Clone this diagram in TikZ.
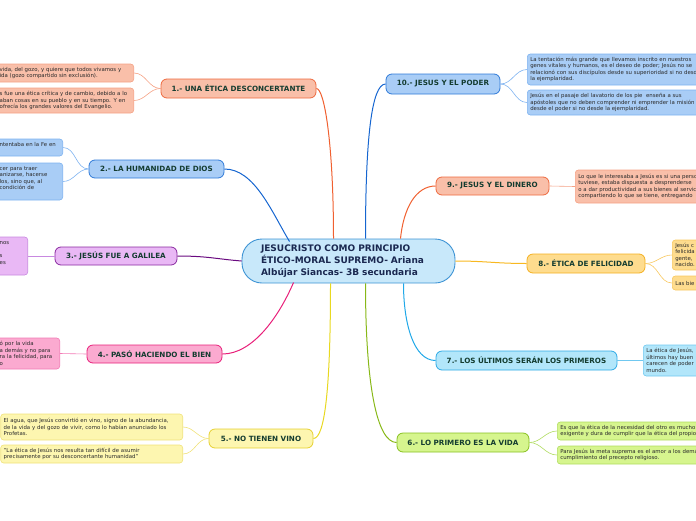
\documentclass[tikz,border=0pt]{standalone}
\usepackage{fontspec}
\setmainfont{DejaVu Sans}
\usetikzlibrary{calc}
\definecolor{labelgreen}{HTML}{143C30}
\definecolor{leaftext}{HTML}{2A2A2A}
\definecolor{cfill}{HTML}{C8E8FA}
\definecolor{cdraw}{HTML}{3D93D4}
\definecolor{ctext}{HTML}{1A2850}
\definecolor{salfill}{HTML}{F9BFA9}
\definecolor{saldraw}{HTML}{EE6A3F}
\definecolor{salleaf}{HTML}{F5A285}
\definecolor{salline}{HTML}{F06030}
\definecolor{bluefill}{HTML}{A9CDF6}
\definecolor{bluedraw}{HTML}{2F7AD8}
\definecolor{blueleaf}{HTML}{7EB2F0}
\definecolor{blueline}{HTML}{1565D0}
\definecolor{purfill}{HTML}{E9B8F5}
\definecolor{purdraw}{HTML}{8A2AA0}
\definecolor{purleaf}{HTML}{C888E0}
\definecolor{purline}{HTML}{6A0A80}
\definecolor{pinkfill}{HTML}{FBAAD0}
\definecolor{pinkdraw}{HTML}{E8207A}
\definecolor{pinkleaf}{HTML}{F27AB5}
\definecolor{yelfill}{HTML}{FDF6B0}
\definecolor{yeldraw}{HTML}{E6D030}
\definecolor{yelleaf}{HTML}{F0E27A}
\definecolor{yelline}{HTML}{E8D820}
\definecolor{grfill}{HTML}{D6F58E}
\definecolor{grdraw}{HTML}{88C020}
\definecolor{grleaf}{HTML}{B0DC60}
\definecolor{grline}{HTML}{88B818}
\definecolor{cyfill}{HTML}{B2E6FA}
\definecolor{cydraw}{HTML}{2EAAE6}
\definecolor{cyleaf}{HTML}{70C8F0}
\definecolor{cyline}{HTML}{20A8E8}
\definecolor{orfill}{HTML}{FEDC8E}
\definecolor{ordraw}{HTML}{F4B020}
\definecolor{orleaf}{HTML}{F8C860}
\definecolor{orline}{HTML}{F8B820}
\begin{document}
\begin{tikzpicture}[x=1pt,y=-1pt,
  central/.style={draw=cdraw, fill=cfill, line width=0.9pt, rounded corners=20pt,
    align=left, text width=175pt, inner xsep=19pt, inner ysep=0pt, minimum height=44pt,
    font=\fontsize{9}{12}\selectfont\bfseries, text=ctext},
  branch/.style={draw, rounded corners=6pt, line width=0.8pt, inner sep=0pt,
    font=\fontsize{7.2}{8}\selectfont\bfseries, text=labelgreen},
  leaf/.style={draw, rounded corners=3pt, line width=0.6pt, inner xsep=3pt, inner ysep=1pt,
    align=left, font=\fontsize{5.4}{6.5}\selectfont, text=leaftext},
  lleaf/.style={leaf, anchor=east},
  rleaf/.style={leaf, anchor=west, text width=250pt},
  mainconn/.style={line width=1pt},
  leafconn/.style={line width=0.6pt}]
\useasboundingbox (0,0) rectangle (696,520);
\clip (0,0) rectangle (696,520);

% central
\node[central] (c) at (348.5,261) {JESUCRISTO COMO PRINCIPIO\\ÉTICO-MORAL SUPREMO- Ariana\\Albújar Siancas- 3B secundaria};

% branches
\node[branch, fill=salfill, draw=saldraw, minimum width=155pt, minimum height=19pt] (b1) at (238.5,88.5) {1.- UNA ÉTICA DESCONCERTANTE};
\node[branch, fill=bluefill, draw=bluedraw, minimum width=135pt, minimum height=18pt] (b2) at (156.5,169) {2.- LA HUMANIDAD DE DIOS};
\node[branch, fill=purfill, draw=purdraw, minimum width=122pt, minimum height=18pt] (b3) at (116,256) {3.- JESÚS FUE A GALILEA};
\node[branch, fill=pinkfill, draw=pinkdraw, minimum width=135pt, minimum height=18pt] (b4) at (154.5,354) {4.- PASÓ HACIENDO EL BIEN};
\node[branch, fill=yelfill, draw=yeldraw, minimum width=104pt, minimum height=19pt] (b5) at (261,438.5) {5.- NO TIENEN VINO};
\node[branch, fill=grfill, draw=grdraw, minimum width=132pt, minimum height=19pt] (b6) at (463,442.5) {6.- LO PRIMERO ES LA VIDA};
\node[branch, fill=cyfill, draw=cydraw, minimum width=181pt, minimum height=19pt] (b7) at (526.5,360.5) {7.- LOS ÚLTIMOS SERÁN LOS PRIMEROS};
\node[branch, fill=orfill, draw=ordraw, minimum width=118pt, minimum height=19pt] (b8) at (586,263.5) {8.- ÉTICA DE FELICIDAD};
\node[branch, fill=salfill, draw=saldraw, minimum width=113pt, minimum height=18pt] (b9) at (492.5,186) {9.- JESUS Y EL DINERO};
\node[branch, fill=bluefill, draw=bluedraw, minimum width=114pt, minimum height=20pt] (b10) at (443,84) {10.- JESUS Y EL PODER};

% left leaves
\node[lleaf, fill=salfill, draw=salleaf, text width=131pt, minimum height=18pt] (l1a) at (134,73) {vida, del gozo, y quiere que todos vivamos y\\ida (gozo compartido sin exclusión).};
\node[lleaf, fill=salfill, draw=salleaf, text width=131pt, minimum height=25pt] (l1b) at (134,100.5) {\mbox{s fue una ética crítica y de cambio, debido a lo}\\\mbox{aban cosas en su pueblo y en su tiempo. Y en}\\ofrecía los grandes valores del Evangelio.};
\node[lleaf, fill=bluefill, draw=blueleaf, text width=60pt, minimum height=17pt] (l2a) at (63,147.5) {ntentaba en la Fe en\\\mbox{}};
\node[lleaf, fill=bluefill, draw=blueleaf, text width=60pt, minimum height=37pt] (l2b) at (63,181.5) {cer para traer\\anizarse, hacerse\\los, sino que, al\\condición de\\\mbox{}};
\node[lleaf, fill=purfill, draw=purleaf, text width=25pt, minimum height=38pt] (l3) at (28,256) {nos\\\mbox{}\\s\\es\\\mbox{}};
\node[lleaf, fill=pinkfill, draw=pinkleaf, text width=57pt, minimum height=31pt] (l4) at (60,353.5) {ó por la vida\\a demás y no para\\\mbox{ra la felicidad, para}\\o};
\node[lleaf, fill=yelfill, draw=yelleaf, text width=176pt, minimum height=26pt] (l5a) at (183,427) {\mbox{El agua, que Jesús convirtió en vino, signo de la abundancia,}\\\mbox{de la vida y del gozo de vivir, como lo habían anunciado los}\\Profetas.};
\node[lleaf, fill=yelfill, draw=yelleaf, text width=176pt, minimum height=18pt] (l5b) at (183,454) {"La ética de Jesús nos resulta tan difícil de asumir\\precisamente por su desconcertante humanidad"};

% right leaves
\node[rleaf, fill=bluefill, draw=blueleaf, minimum height=31pt] (l10a) at (527,69.5) {La tentación más grande que llevamos inscrito en nuestros\\genes vitales y humanos, es el deseo de poder; Jesús no se\\relacionó con sus discípulos desde su superioridad si no desde\\la ejemplaridad.};
\node[rleaf, fill=bluefill, draw=blueleaf, minimum height=25pt] (l10b) at (527,102.5) {Jesús en el pasaje del lavatorio de los pie \ enseña a sus\\apóstoles que no deben comprender ni emprender la misión\\desde el poder si no desde la ejemplaridad.};
\node[rleaf, fill=salfill, draw=salleaf, minimum height=33pt] (l9) at (575,186.5) {Lo que le interesaba a Jesús es si una persona\\tuviese, estaba dispuesta a desprenderse\\o a dar productividad a sus bienes al servicio\\compartiendo lo que se tiene, entregando};
\node[rleaf, fill=orfill, draw=orleaf, minimum height=30pt] (l8a) at (672,255) {Jesús c\\felicida\\gente,\\nacido.};
\node[rleaf, fill=orfill, draw=orleaf, minimum height=14pt] (l8b) at (672,283) {Las bie};
\node[rleaf, fill=cyfill, draw=cyleaf, minimum height=31pt] (l7) at (643,360.5) {La ética de Jesús,\\últimos hay buen\\carecen de poder\\mundo.};
\node[rleaf, fill=grfill, draw=grleaf, minimum height=18pt] (l6a) at (557,431) {Es que la ética de la necesidad del otro es mucho\\exigente y dura de cumplir que la ética del propio};
\node[rleaf, fill=grfill, draw=grleaf, minimum height=18pt] (l6b) at (557,455) {Para Jesús la meta suprema es el amor a los demás\\cumplimiento del precepto religioso.};

% main connectors
\draw[mainconn, salline] ($(c.north)+(-15,0)$) .. controls +(0,-95) and +(8,0) .. (b1.east);
\draw[mainconn, blueline] ($(c.north west)+(48,3)$) .. controls +(-18,-30) and +(30,0) .. (b2.east);
\draw[mainconn, purline] (c.west) .. controls +(-25,-2) and +(30,0) .. (b3.east);
\draw[mainconn, pinkdraw] ($(c.south west)+(52,-1)$) .. controls +(-15,35) and +(30,0) .. (b4.east);
\draw[mainconn, yelline] ($(c.south)+(-18,0)$) .. controls +(0,100) and +(12,0) .. (b5.east);
\draw[mainconn, grline] ($(c.south)+(17,0)$) .. controls +(0,100) and +(-20,0) .. (b6.west);
\draw[mainconn, cyline] ($(c.south)+(55,0)$) .. controls +(0,40) and +(-22,0) .. (b7.west);
\draw[mainconn, orline] (c.east) .. controls +(30,0) and +(-30,0) .. (b8.west);
\draw[mainconn, salline] ($(c.north)+(52,0)$) .. controls +(3,-30) and +(-20,0) .. (b9.west);
\draw[mainconn, blueline] ($(c.north)+(17,0)$) .. controls +(0,-100) and +(-14,0) .. (b10.west);

% leaf connectors
\draw[leafconn, salleaf] (b1.west) to[out=180,in=0] (l1a.east);
\draw[leafconn, salleaf] (b1.west) to[out=180,in=0] (l1b.east);
\draw[leafconn, blueleaf] (b2.west) to[out=180,in=0] (l2a.east);
\draw[leafconn, blueleaf] (b2.west) to[out=180,in=0] (l2b.east);
\draw[leafconn, purleaf] (b3.west) -- (l3.east);
\draw[leafconn, pinkleaf] (b4.west) -- (l4.east);
\draw[leafconn, yelleaf] (b5.west) to[out=180,in=0] (l5a.east);
\draw[leafconn, yelleaf] (b5.west) to[out=180,in=0] (l5b.east);
\draw[leafconn, grleaf] (b6.east) to[out=0,in=180] (l6a.west);
\draw[leafconn, grleaf] (b6.east) to[out=0,in=180] (l6b.west);
\draw[leafconn, cyleaf] (b7.east) -- (l7.west);
\draw[leafconn, orleaf] (b8.east) to[out=0,in=180] (l8a.west);
\draw[leafconn, orleaf] (b8.east) to[out=0,in=180] (l8b.west);
\draw[leafconn, salleaf] (b9.east) -- (l9.west);
\draw[leafconn, blueleaf] (b10.east) to[out=0,in=180] (l10a.west);
\draw[leafconn, blueleaf] (b10.east) to[out=0,in=180] (l10b.west);
\end{tikzpicture}
\end{document}
